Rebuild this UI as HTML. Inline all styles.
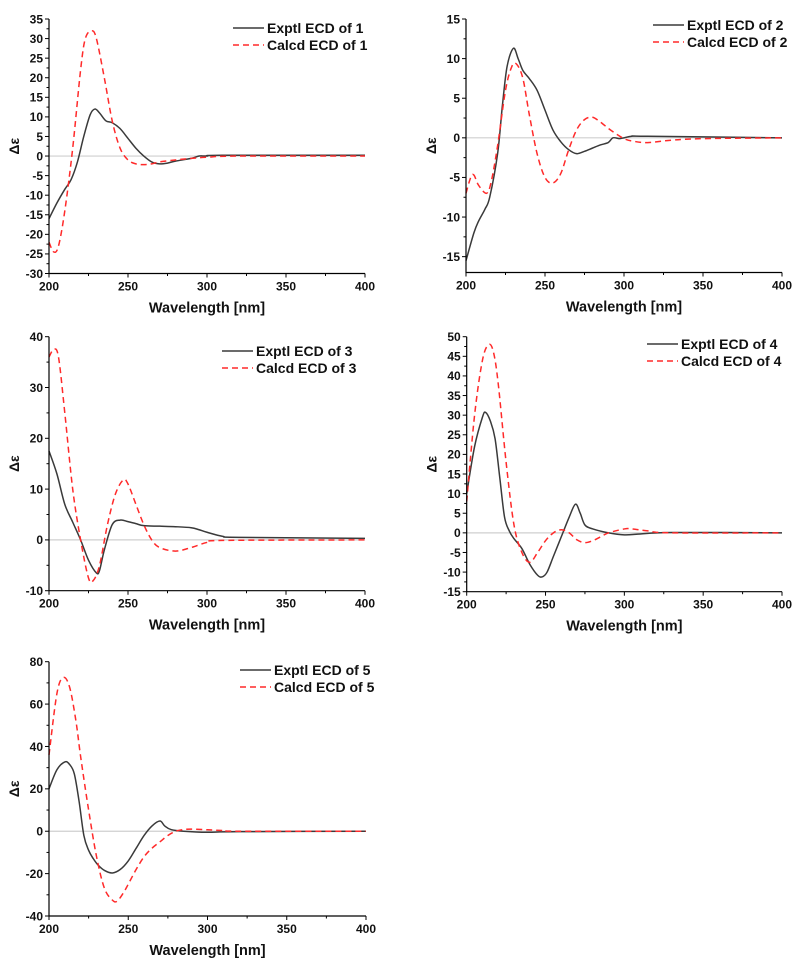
<!DOCTYPE html>
<html><head><meta charset="utf-8"><style>
html,body{margin:0;padding:0;background:#fff;}
svg{display:block;font-family:"Liberation Sans",Arial,sans-serif;}
</style></head><body>
<svg id="fig" width="798" height="961" viewBox="0 0 798 961" xmlns="http://www.w3.org/2000/svg"></svg>
<script>
// ---- Panel 1 data ----
const p1ExpWl = [200,205,210,214,218,222,226,229,232,236,240,245,250,255,260,265,270,275,280,290,295,300,310,400];
const p1ExpVal = [-16,-12,-8.5,-6,-1.5,5,10.5,12,11,9,8.5,7,4.5,2,0,-1.5,-2,-1.8,-1.3,-0.6,0,0,0.2,0.2];
const p1CalWl = [200,203,206,210,215,220,223,227,230,235,240,245,250,255,260,265,270,280,290,300,320,400];
const p1CalVal = [-22,-24.5,-23,-14,2,22,30,32,30,20,9,2,-1,-2,-2.2,-2,-1.5,-1,-0.6,-0.3,0,0];
const p1YTicks = [-30,-25,-20,-15,-10,-5,0,5,10,15,20,25,30,35];
// ---- Panel 2 data ----
const p2ExpWl = [200,205,208,212,215,220,223,226,230,233,236,240,245,250,255,260,265,270,275,280,285,290,293,297,300,305,315,400];
const p2ExpVal = [-15.5,-12,-10.5,-9,-7.5,-2,4,9,11.3,10,8.5,7.5,6,3.5,1,-0.5,-1.5,-2,-1.7,-1.3,-0.9,-0.6,0,-0.1,0,0.2,0.2,0];
const p2CalWl = [200,203,205,208,213,216,220,225,229,232,236,240,245,250,255,260,265,270,275,280,285,290,295,300,305,315,330,350,400];
const p2CalVal = [-7,-5,-4.7,-6,-7,-5.5,-1,6,9,9.3,7.5,3,-2,-5,-5.7,-4.5,-1.5,1,2.3,2.6,2,1.2,0.5,-0.1,-0.4,-0.6,-0.3,-0.1,0];
const p2YTicks = [-15,-10,-5,0,5,10,15];
// ---- Panel 3 data ----
const p3ExpWl = [200,205,210,215,220,225,230,232,235,240,245,250,255,260,270,280,290,295,300,310,320,400];
const p3ExpVal = [17.5,13,7,3.5,0,-4,-6.5,-6,-2,3,3.9,3.6,3.2,2.8,2.7,2.6,2.4,2,1.5,0.7,0.5,0.3];
const p3CalWl = [200,203,206,210,215,220,225,228,232,237,242,247,250,255,260,265,270,280,290,300,310,400];
const p3CalVal = [36,37.5,36,25,10,0,-7.5,-8,-5,3,9,11.8,11,7,3,0,-1.5,-2.2,-1.5,-0.5,-0.1,0];
const p3YTicks = [-10,0,10,20,30,40];
// ---- Panel 4 data ----
const p4ExpWl = [200,205,210,212,215,218,221,224,227,230,235,240,245,248,251,255,260,265,269,272,275,280,290,300,310,330,400];
const p4ExpVal = [10,22,29.5,30.7,28.5,24,14,4,0.5,-1.5,-4,-8,-10.8,-11.2,-10,-6,-1,4,7.3,5,2,1,0,-0.5,-0.3,0.1,0];
const p4CalWl = [200,205,210,214,217,220,225,230,235,240,245,250,255,260,265,270,275,280,285,290,300,305,315,330,400];
const p4CalVal = [8,30,44,48,46,38,18,2,-5,-7.5,-5,-2,0,0.8,0,-1.8,-2.5,-2,-1,0,1,1,0.5,0,0];
const p4YTicks = [-15,-10,-5,0,5,10,15,20,25,30,35,40,45,50];
// ---- Panel 5 data ----
const p5ExpWl = [200,205,210,213,216,219,222,225,228,231,235,240,245,250,255,260,265,270,273,277,285,300,320,400];
const p5ExpVal = [20,29,32.7,31.5,27,14,-2,-9,-13,-16,-18.5,-19.7,-18,-14,-8,-2,2.5,4.8,2.5,0.8,0,-0.5,-0.2,0];
const p5CalWl = [200,205,209,213,217,220,225,230,235,240,243,247,250,255,260,265,270,275,280,285,290,300,310,320,400];
const p5CalVal = [36,65,72.5,68,52,35,10,-12,-27,-32.5,-33,-29,-25,-18,-12,-8,-5,-2,0,0.8,1,0.7,0.3,0,0];
const p5YTicks = [-40,-20,0,20,40,60,80];
const xTicks = [200,250,300,350,400];

const NS = "http://www.w3.org/2000/svg";
const svg = document.getElementById("fig");
function mk(tag, attrs, parent){
  const e = document.createElementNS(NS, tag);
  for (const k in attrs) e.setAttribute(k, attrs[k]);
  (parent||svg).appendChild(e);
  return e;
}
function smoothPath(pts){
  let d = "M" + pts[0][0].toFixed(2) + "," + pts[0][1].toFixed(2);
  for (let i=0;i<pts.length-1;i++){
    const p0 = pts[i-1]||pts[i], p1=pts[i], p2=pts[i+1], p3=pts[i+2]||p2;
    const c1x = p1[0]+(p2[0]-p0[0])/6, c1y = p1[1]+(p2[1]-p0[1])/6;
    const c2x = p2[0]-(p3[0]-p1[0])/6, c2y = p2[1]-(p3[1]-p1[1])/6;
    d += " C"+c1x.toFixed(2)+","+c1y.toFixed(2)+" "+c2x.toFixed(2)+","+c2y.toFixed(2)+" "+p2[0].toFixed(2)+","+p2[1].toFixed(2);
  }
  return d;
}
function panel(cfg){
  const g = mk("g", {});
  
  
  const xs = v => cfg.x0 + (v-200)/200*(cfg.x1-cfg.x0);
  const ys = v => cfg.yTop + (cfg.ymax - v)/(cfg.ymax - cfg.ymin)*(cfg.yBot - cfg.yTop);
  const z = mk("line", {x1:cfg.x0, x2:cfg.x1, y1:ys(0), y2:ys(0), stroke:"#cfcfcf", "stroke-width":1.2}, g);
  
  
  const exp = mk("path", {d:smoothPath(cfg.ew.map((w,i)=>[xs(w),ys(cfg.ev[i])])), fill:"none", stroke:"#3a3a3a", "stroke-width":1.5}, g);
  
  
  const cal = mk("path", {d:smoothPath(cfg.cw.map((w,i)=>[xs(w),ys(cfg.cv[i])])), fill:"none", stroke:"#ff2a2a", "stroke-width":1.5, "stroke-dasharray":"6,4"}, g);
  
  
  const ax = mk("path", {d:`M${cfg.x0},${cfg.yTop} V${cfg.yBot} H${cfg.x1}`, fill:"none", stroke:"#000", "stroke-width":1.2}, g);
  
  
  for (let v=200; v<=400; v+=25){
    const major = v%50===0;
    mk("line",{x1:xs(v),x2:xs(v),y1:cfg.yBot,y2:cfg.yBot+(major?4:2.5),stroke:"#000","stroke-width":1},g);
  }
  xTicks.forEach(v=>{
    const t = mk("text",{x:xs(v),y:cfg.yBot+17,"text-anchor":"middle","font-size":12,"font-weight":"bold",fill:"#111"},g);
    t.textContent = v;
    
    
  });
  const step = cfg.yt[1]-cfg.yt[0];
  cfg.yt.forEach((v,i)=>{
    mk("line",{x1:cfg.x0-4,x2:cfg.x0,y1:ys(v),y2:ys(v),stroke:"#000","stroke-width":1},g);
    const mv = v + step/2;
    if (i < cfg.yt.length-1 || mv <= cfg.ymax) mk("line",{x1:cfg.x0-2.5,x2:cfg.x0,y1:ys(mv),y2:ys(mv),stroke:"#000","stroke-width":1},g);
    const t = mk("text",{x:cfg.x0-6,y:ys(v)+4.3,"text-anchor":"end","font-size":12,"font-weight":"bold",fill:"#111"},g);
    t.textContent = v;
    
    
  });
  if (cfg.ymin < cfg.yt[0]){
    const mv = cfg.yt[0]-step/2;
    if (mv>=cfg.ymin) mk("line",{x1:cfg.x0-2.5,x2:cfg.x0,y1:ys(mv),y2:ys(mv),stroke:"#000","stroke-width":1},g);
  }
  const xt = mk("text",{x:(cfg.x0+cfg.x1)/2,y:cfg.yBot+39,"text-anchor":"middle","font-size":14.5,"font-weight":"bold",fill:"#111"},g);
  xt.textContent = "Wavelength [nm]";
  
  
  const ymid = (cfg.yTop+cfg.yBot)/2;
  const yx = cfg.x0-30;
  const yt = mk("text",{x:yx,y:ymid,"text-anchor":"middle","font-size":14,"font-weight":"bold",fill:"#111",transform:`rotate(-90 ${yx} ${ymid})`},g);
  yt.textContent = "Δε";
  
  
  const lx = cfg.lx, ly = cfg.ly;
  const le1 = mk("g",{},g);
  
  
  mk("line",{x1:lx,x2:lx+31,y1:ly,y2:ly,stroke:"#3a3a3a","stroke-width":1.5},le1);
  const t1 = mk("text",{x:lx+34,y:ly+5,"font-size":14,"font-weight":"bold",fill:"#111"},le1);
  t1.textContent = "Exptl ECD of " + cfg.n;
  const le2 = mk("g",{},g);
  
  
  mk("line",{x1:lx,x2:lx+31,y1:ly+17,y2:ly+17,stroke:"#ff2a2a","stroke-width":1.5,"stroke-dasharray":"6,4"},le2);
  const t2 = mk("text",{x:lx+34,y:ly+22,"font-size":14,"font-weight":"bold",fill:"#111"},le2);
  t2.textContent = "Calcd ECD of " + cfg.n;
}
panel({n:1,x0:49,x1:365,yTop:19,yBot:273.5,ymin:-30,ymax:35,yt:p1YTicks,ew:p1ExpWl,ev:p1ExpVal,cw:p1CalWl,cv:p1CalVal,lx:233,ly:28});
panel({n:2,x0:466,x1:782,yTop:19,yBot:272.5,ymin:-17,ymax:15,yt:p2YTicks,ew:p2ExpWl,ev:p2ExpVal,cw:p2CalWl,cv:p2CalVal,lx:653,ly:25});
panel({n:3,x0:49,x1:365,yTop:336.7,yBot:590.7,ymin:-10,ymax:40,yt:p3YTicks,ew:p3ExpWl,ev:p3ExpVal,cw:p3CalWl,cv:p3CalVal,lx:222,ly:351});
panel({n:4,x0:466.7,x1:782,yTop:336.7,yBot:591.7,ymin:-15,ymax:50,yt:p4YTicks,ew:p4ExpWl,ev:p4ExpVal,cw:p4CalWl,cv:p4CalVal,lx:647,ly:344});
panel({n:5,x0:49,x1:366,yTop:661.7,yBot:916,ymin:-40,ymax:80,yt:p5YTicks,ew:p5ExpWl,ev:p5ExpVal,cw:p5CalWl,cv:p5CalVal,lx:240,ly:670});
</script>
</body></html>
